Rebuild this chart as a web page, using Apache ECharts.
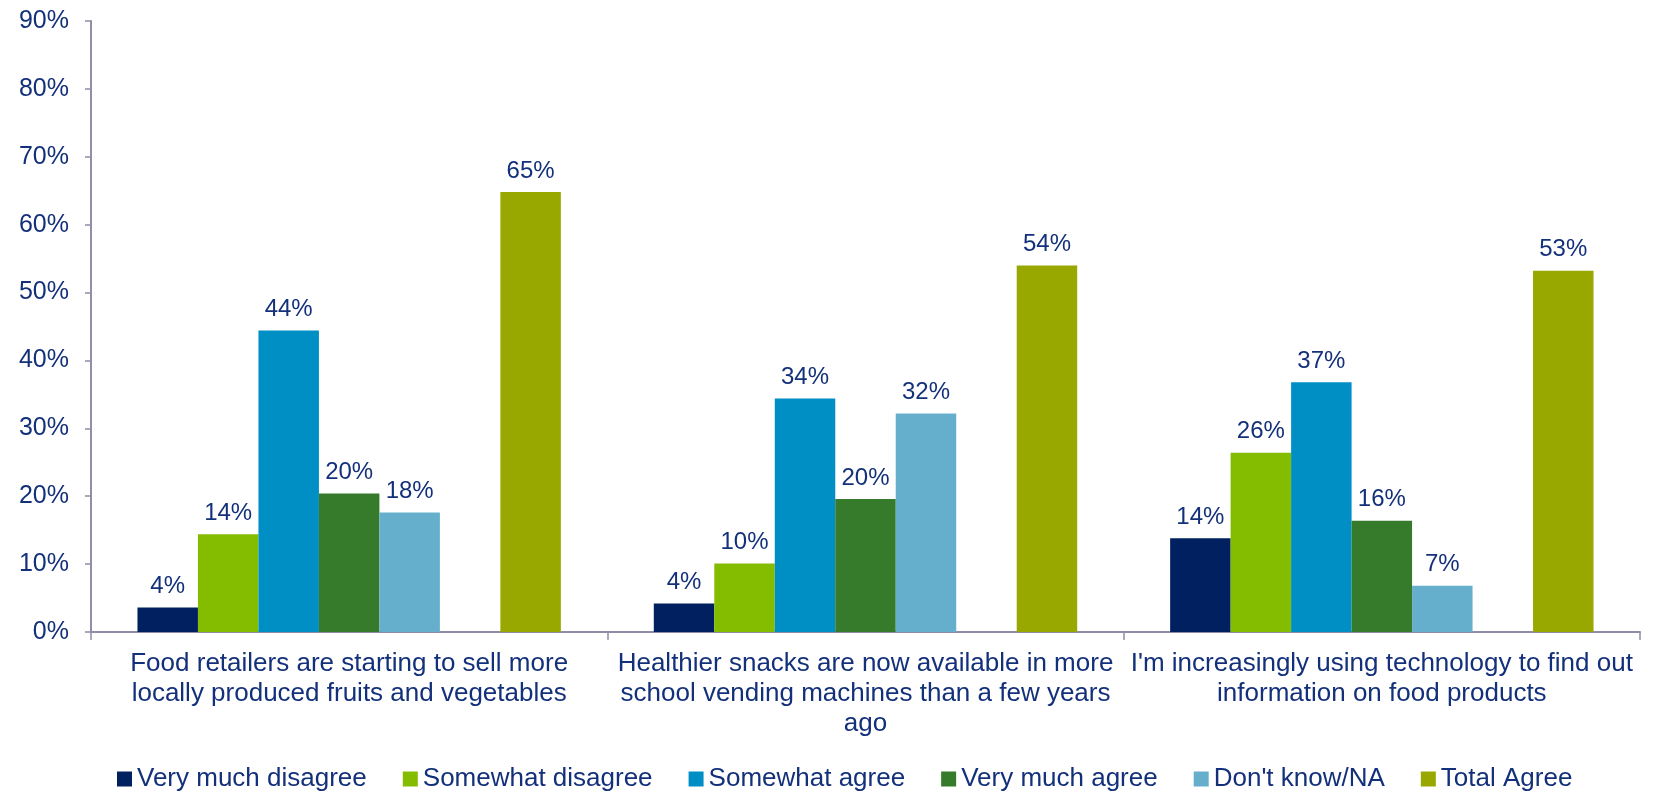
<!DOCTYPE html>
<html>
<head>
<meta charset="utf-8">
<script src="https://cdn.jsdelivr.net/npm/echarts@6/dist/echarts.min.js"></script>
<style>
html,body{margin:0;padding:0;background:#fff;}
#chart{width:1657px;height:793px;}
</style>
</head>
<body>
<div id="chart"></div>
<script>
var categories = [
  "Food retailers are starting to sell more\nlocally produced fruits and vegetables",
  "Healthier snacks are now available in more\nschool vending machines than a few years\nago",
  "I'm increasingly using technology to find out\ninformation on food products"
];
var seriesNames = ["Very much disagree", "Somewhat disagree", "Somewhat agree", "Very much agree", "Don't know/NA", "", "Total Agree"];
var veryMuchDisagree = [3.6, 4.2, 13.8];
var somewhatDisagree = [14.4, 10.1, 26.4];
var somewhatAgree = [44.4, 34.4, 36.8];
var veryMuchAgree = [20.4, 19.6, 16.4];
var dontKnow = [17.6, 32.2, 6.8];
var emptySlot = [null, null, null];
var totalAgree = [64.8, 54.0, 53.2];
var yTicks = [0, 10, 20, 30, 40, 50, 60, 70, 80, 90];

var seriesValues = [veryMuchDisagree, somewhatDisagree, somewhatAgree, veryMuchAgree, dontKnow, emptySlot, totalAgree];
var colors = ["#00205F", "#84BC00", "#008FC5", "#367B2C", "#66AFCC", "#ffffff", "#99A800"];
var textColor = "#13307A";
var axisColor = "#8E8EA6";
var font = "Liberation Sans, Arial, sans-serif";

var chart = echarts.init(document.getElementById('chart'));
chart.setOption({
  animation: false,
  backgroundColor: '#ffffff',
  grid: {left: 91, right: 17, top: 21, bottom: 161, containLabel: false},
  legend: {
    data: seriesNames.filter(function(n){return n !== '';}).map(function(n){return {name: n, icon: 'rect'};}),
    top: 761,
    left: 112,
    itemWidth: 15,
    itemHeight: 15,
    itemGap: 36,
    textStyle: {fontFamily: font, fontSize: 26, color: textColor, padding: [0,0,0,0]}
  },
  xAxis: {
    type: 'category',
    data: categories,
    axisLine: {show: true, lineStyle: {color: axisColor, width: 2}},
    axisTick: {show: true, length: 8, lineStyle: {color: axisColor, width: 1.5}},
    axisLabel: {interval: 0, fontFamily: font, fontSize: 26, color: textColor, lineHeight: 30, margin: 17}
  },
  yAxis: {
    type: 'value',
    min: yTicks[0],
    max: yTicks[yTicks.length - 1],
    interval: 10,
    splitLine: {show: false},
    axisLine: {show: true, lineStyle: {color: axisColor, width: 2}},
    axisTick: {show: true, length: 6, lineStyle: {color: axisColor, width: 1.5}},
    axisLabel: {formatter: '{value}%', fontFamily: font, fontSize: 25, color: textColor, margin: 22}
  },
  series: seriesValues.map(function(vals, i){
    return {
      name: seriesNames[i],
      type: 'bar',
      data: vals,
      barGap: '0%',
      barCategoryGap: '18%',
      itemStyle: {color: colors[i]},
      label: {
        show: seriesNames[i] !== '',
        position: 'top',
        distance: 9,
        fontFamily: font,
        fontSize: 24,
        color: textColor,
        formatter: function(p){ return Math.round(p.value) + '%'; }
      }
    };
  })
});
</script>
</body>
</html>
